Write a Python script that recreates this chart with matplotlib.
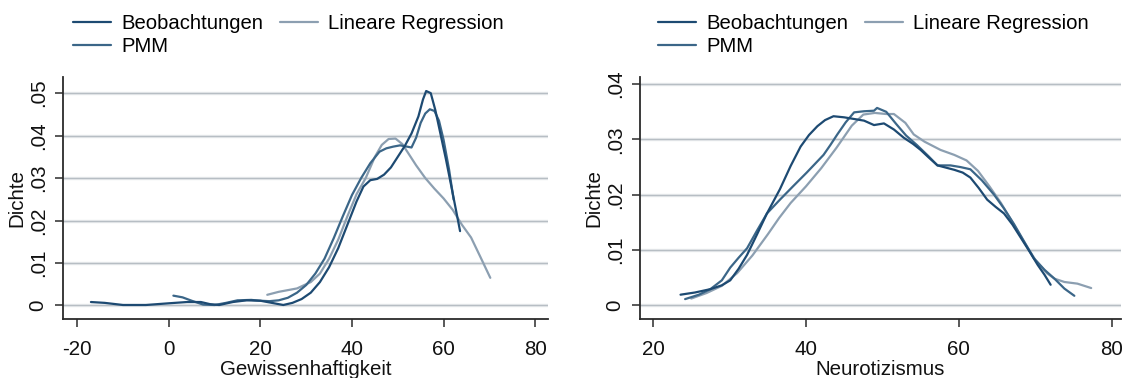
import matplotlib
matplotlib.use("Agg")
import matplotlib.pyplot as plt

plt.rcParams['font.family'] = ['Liberation Sans', 'DejaVu Sans']

# ---------------- data ----------------
series_names = ["Beobachtungen", "PMM", "Lineare Regression"]

# Left panel: Gewissenhaftigkeit
gw_beob_x = [-17, -14, -10, -5, 0, 4, 7, 9, 11, 14, 17, 20, 22.5, 25, 27, 29, 31, 33, 35, 37,
             39, 41, 42.5, 44, 45.5, 47, 48.5, 50, 51.5, 53, 54.5, 55.5, 56.2, 57.2, 58.2,
             59.3, 60.5, 61.7, 62.7, 63.6]
gw_beob_y = [.0008, .0006, .0001, .0001, .0005, .0008, .0008, .0003, .0001, .0008,
             .0012, .0011, .0006, .0001, .0006, .0015, .0030, .0055, .0090, .0135,
             .0190, .0245, .0280, .0295, .0298, .0308, .0325, .0350, .0375, .0405,
             .0445, .0485, .0505, .0500, .0460, .0405, .0345, .0280, .0225, .0175]

gw_pmm_x = [1, 3, 5, 7.5, 10, 12.5, 15, 18, 20, 22, 24, 26, 28, 30, 32, 34, 36, 38, 40, 42,
            44, 46, 47.5, 49, 50.5, 52, 53, 54, 55, 56, 57, 58, 59, 60, 61.2, 62.2]
gw_pmm_y = [.0023, .0019, .0011, .0002, .0001, .0006, .0012, .0013, .0011, .0010,
            .0012, .0018, .0030, .0048, .0075, .0110, .0158, .0210, .0260, .0300,
            .0335, .0362, .0370, .0374, .0377, .0374, .0372, .0395, .0430, .0452,
            .0462, .0458, .0435, .0390, .0320, .0249]

gw_lr_x = [21.5, 24, 28, 31, 33, 35, 37, 39, 41, 43, 45, 46.5, 48, 49.5, 51, 52.5, 54, 56,
           58, 60, 62, 64, 66, 68, 70.2]
gw_lr_y = [.0025, .0032, .0040, .0055, .0075, .0110, .0155, .0210, .0262, .0300,
           .0350, .0378, .0392, .0393, .0380, .0355, .0330, .0300, .0275, .0252,
           .0225, .0190, .0160, .0115, .0065]

# Right panel: Neurotizismus
ne_beob_x = [23.6, 25.5, 27.5, 29, 30.1, 31.2, 32.3, 33.6, 34.9, 36.6, 38, 39.3, 40.4, 41.5,
             42.5, 43.6, 45, 46.3, 47.6, 48.9, 50.2, 51.5, 52.8, 54, 55, 56, 57.2, 58.3,
             59.4, 60.5, 61.5, 62.6, 63.7, 64.8, 65.9, 67, 68.1, 69.2, 70.3, 71.2, 72]
ne_beob_y = [.0019, .0023, .0029, .0036, .0045, .0066, .0091, .0128, .0166, .0210,
             .0252, .0287, .0308, .0324, .0335, .0342, .0340, .0337, .0334, .0326,
             .0329, .0318, .0303, .0292, .0281, .0268, .0253, .0249, .0245, .0240,
             .0231, .0212, .0191, .0178, .0166, .0146, .0122, .0098, .0073, .0055, .0037]

ne_pmm_x = [24.2, 26, 27.5, 29, 30.1, 31.2, 32.3, 33.6, 34.9, 36.6, 38.3, 40.1, 41.2, 42.3,
            43.2, 44.1, 45.2, 46.3, 47.6, 48.9, 49.3, 50.5, 51.8, 53.1, 54.5, 56, 57.2, 58,
            58.9, 60.2, 61.5, 63, 64.6, 65.9, 67.2, 68.5, 69.8, 71.2, 72.5, 73.8, 75.1]
ne_pmm_y = [.0011, .0019, .0029, .0045, .0068, .0086, .0103, .0135, .0166, .0191,
            .0215, .0240, .0256, .0272, .0290, .0309, .0331, .0349, .0351, .0352,
            .0357, .0350, .0328, .0307, .0290, .0270, .0253, .0253, .0253, .0250,
            .0246, .0226, .0200, .0175, .0147, .0116, .0085, .0064, .0048, .0030, .0017]

ne_lr_x = [25, 27, 29, 31, 33, 35, 36.5, 38, 40, 42, 44, 46, 47.5, 49, 50.5, 51.5, 53, 54.1,
           55.5, 57.6, 59.4, 61, 62.5, 64, 65.5, 67, 68.5, 70, 71.5, 72.5, 73.8, 75.5, 77.3]
ne_lr_y = [.0012, .0022, .0035, .0058, .0090, .0128, .0158, .0185, .0215, .0248,
           .0285, .0325, .0345, .0348, .0346, .0346, .0330, .0309, .0296, .0281,
           .0272, .0262, .0243, .0215, .0185, .0150, .0115, .0082, .0058, .0048,
           .0042, .0039, .0031]

gw_xticks = [-20, 0, 20, 40, 60, 80]
gw_yticks = [0, .01, .02, .03, .04, .05]
gw_yticklabels = ["0", ".01", ".02", ".03", ".04", ".05"]
ne_xticks = [20, 40, 60, 80]
ne_yticks = [0, .01, .02, .03, .04]
ne_yticklabels = ["0", ".01", ".02", ".03", ".04"]

colors = {"Beobachtungen": "#1d4a72", "PMM": "#3b6688", "Lineare Regression": "#8c9fb1"}

# ---------------- figure ----------------
W, H = 1123, 378
fig = plt.figure(figsize=(W / 100, H / 100), dpi=100)

def box(l, r, t, b):
    return [l / W, 1 - b / H, (r - l) / W, (b - t) / H]

ax1 = fig.add_axes(box(63, 548, 77, 319))
ax2 = fig.add_axes(box(640, 1121, 77, 319))

panels = [
    (ax1, {"Beobachtungen": (gw_beob_x, gw_beob_y), "PMM": (gw_pmm_x, gw_pmm_y),
           "Lineare Regression": (gw_lr_x, gw_lr_y)},
     gw_xticks, gw_yticks, gw_yticklabels, (-23.1, 82.8), (-0.0032, 0.0538),
     "Gewissenhaftigkeit", 76),
    (ax2, {"Beobachtungen": (ne_beob_x, ne_beob_y), "PMM": (ne_pmm_x, ne_pmm_y),
           "Lineare Regression": (ne_lr_x, ne_lr_y)},
     ne_xticks, ne_yticks, ne_yticklabels, (18.3, 81.2), (-0.0025, 0.0413),
     "Neurotizismus", 661),
]

for ax, data, xt, yt, ytl, xl, yl, xlabel, legx in panels:
    for y in yt:
        ax.axhline(y, color="#e6e9ec", lw=2.4, zorder=0.5)
        ax.axhline(y, color="#b7bec4", lw=0.9, zorder=0.6)
    handles = {}
    for name in ["Lineare Regression", "PMM", "Beobachtungen"]:
        xs, ys = data[name]
        h, = ax.plot(xs, ys, color=colors[name], lw=1.6, solid_capstyle="round",
                     solid_joinstyle="round", zorder=2)
        handles[name] = h
    ax.set_xlim(*xl)
    ax.set_ylim(*yl)
    ax.set_xticks(xt)
    ax.set_xticklabels([str(v) for v in xt])
    ax.set_yticks(yt)
    ax.set_yticklabels(ytl, rotation=90, va="center")
    for s in ["top", "right"]:
        ax.spines[s].set_visible(False)
    for s in ["left", "bottom"]:
        ax.spines[s].set_color("#2b2b2b")
        ax.spines[s].set_linewidth(1.3)
    ax.tick_params(axis="both", direction="out", length=6, width=1.1,
                   color="#2b2b2b", labelsize=14.8, labelcolor="#111111")
    ax.tick_params(axis="x", pad=9)
    ax.tick_params(axis="y", pad=5)
    ax.set_xlabel(xlabel, fontsize=14.8, labelpad=1, color="#111111")
    ax.set_ylabel("Dichte", fontsize=14.8, labelpad=2, color="#111111")
    ax.set_facecolor("white")
    leg = fig.legend([handles[n] for n in series_names], series_names, ncol=2,
                     loc="upper left", bbox_to_anchor=(legx / W - 0.006, 1 - 10 / H),
                     frameon=False, fontsize=14.6, handlelength=1.85,
                     handletextpad=0.5, columnspacing=0.85, labelspacing=0.2,
                     borderaxespad=0, borderpad=0.2)

fig.savefig("out.png", dpi=100, facecolor="white")
